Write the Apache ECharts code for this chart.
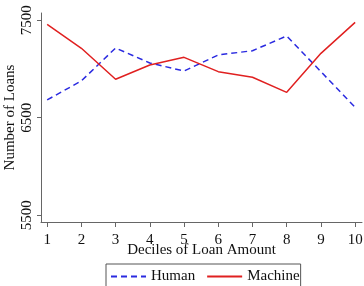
<!DOCTYPE html>
<html><head><meta charset="utf-8">
<script src="https://cdn.jsdelivr.net/npm/echarts@6/dist/echarts.min.js"></script>
<style>html,body{margin:0;padding:0;background:#fff}#c{width:364px;height:286px}</style>
</head><body><div id="c"></div>
<script>
var deciles = [1,2,3,4,5,6,7,8,9,10];
var human = [6683,6878,7216,7062,6980,7144,7188,7339,6973,6607];
var machine = [7459,7213,6895,7041,7120,6973,6915,6761,7161,7479];
var yTicks = [5500,6500,7500];
var F = 'Liberation Serif';
var chart = echarts.init(document.getElementById('c'));
chart.setOption({
  animation:false,
  textStyle:{fontFamily:F},
  grid:{left:41,top:13,right:2,bottom:64,containLabel:false,outerBoundsMode:'none'},
  legend:{
    top:264,left:106,orient:'horizontal',
    padding:[5,1,10,4],itemGap:11,itemWidth:35,itemHeight:12,
    borderColor:'#555',borderWidth:1,
    itemStyle:{opacity:0},
    textStyle:{fontFamily:F,fontSize:15,color:'#111'},
    data:['Human','Machine']
  },
  xAxis:{
    type:'value',min:0.82,max:10.2,
    name:'Deciles of Loan Amount',nameLocation:'middle',nameGap:21,nameMoveOverlap:false,
    nameTextStyle:{fontFamily:F,fontSize:15,color:'#111'},
    axisLine:{lineStyle:{color:'#666'}},
    axisTick:{customValues:deciles,length:5,lineStyle:{color:'#666'}},
    axisLabel:{customValues:deciles,fontFamily:F,fontSize:15,color:'#111',margin:11},
    splitLine:{show:false}
  },
  yAxis:{
    type:'value',min:5430,max:7575,
    name:'Number of Loans',nameLocation:'middle',nameGap:23,nameMoveOverlap:false,
    nameTextStyle:{fontFamily:F,fontSize:15,color:'#111'},
    axisLine:{show:true,lineStyle:{color:'#666'}},
    axisTick:{show:true,customValues:yTicks,length:4,lineStyle:{color:'#666'}},
    axisLabel:{customValues:yTicks,rotate:90,fontFamily:F,fontSize:15,color:'#111',margin:6,
      formatter:function(v){return String(v);}},
    splitLine:{show:false}
  },
  series:[
    {name:'Human',type:'line',symbol:'none',data:deciles.map(function(d,i){return [d,human[i]];}),
     lineStyle:{color:'#2a2ae0',width:1.5,type:[6,4]},itemStyle:{color:'#2a2ae0'}},
    {name:'Machine',type:'line',symbol:'none',data:deciles.map(function(d,i){return [d,machine[i]];}),
     lineStyle:{color:'#e02020',width:1.5},itemStyle:{color:'#e02020'}}
  ]
});
</script></body></html>
